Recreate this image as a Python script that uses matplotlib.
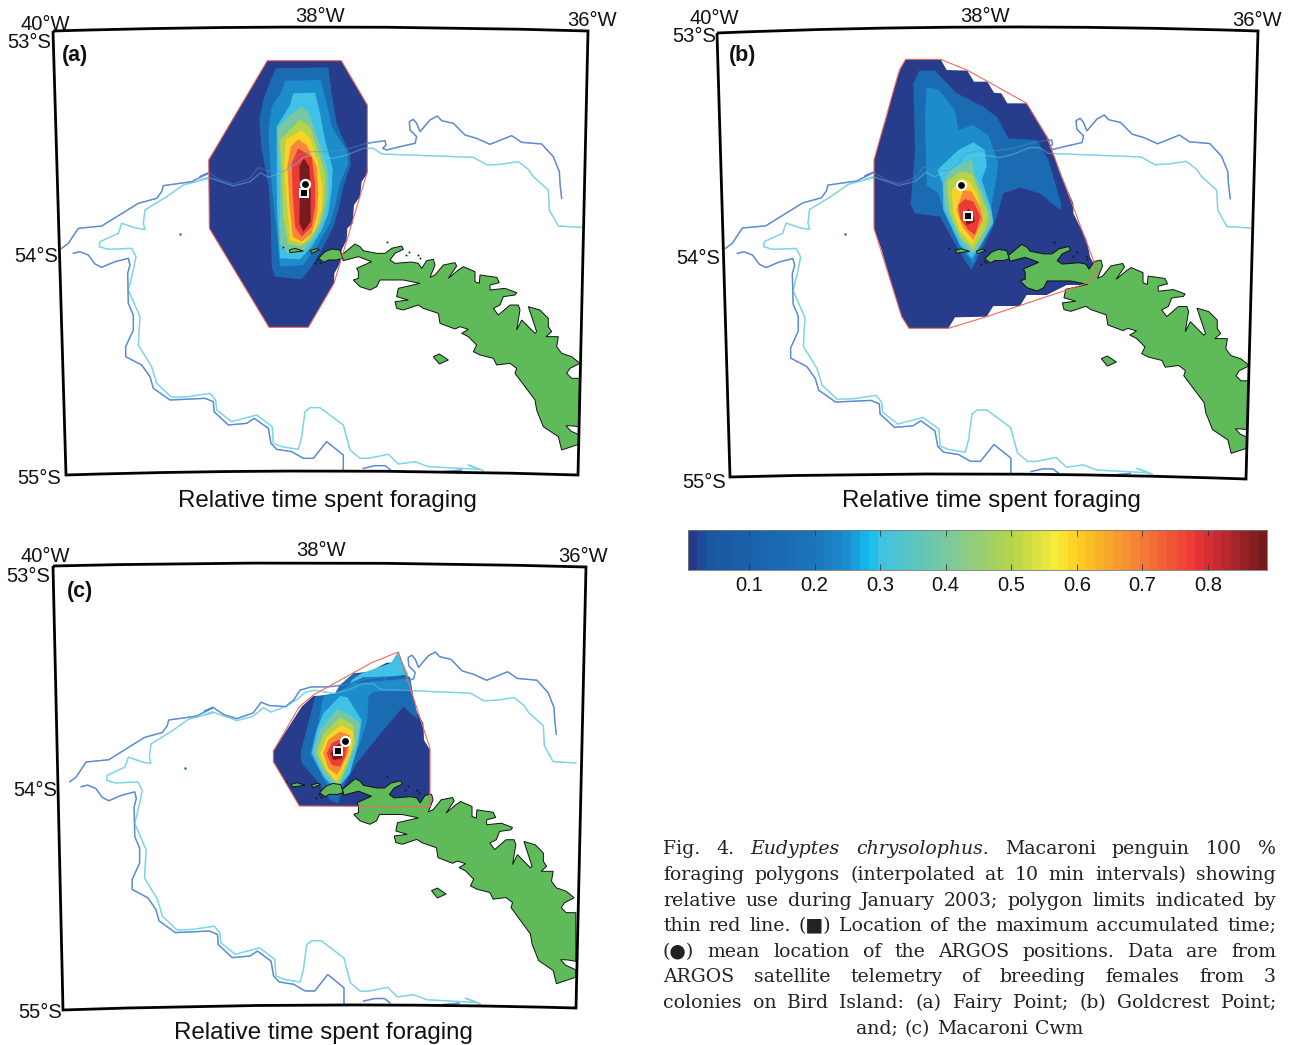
import numpy as np
import matplotlib
matplotlib.use('Agg')
import matplotlib.pyplot as plt
from matplotlib.colors import LinearSegmentedColormap
from matplotlib.patches import PathPatch
from matplotlib.path import Path

W, H = 1294, 1045

# colour of each use level
NAVY, BLUE1, BLUE2, CYAN = '#273c8a', '#1b6bb3', '#1c8ccb', '#3fc2e6'
TEAL, LIME, YELLOW, ORANGE, RED, DARK = '#79c7a2', '#b5d34a', '#fdd226', '#f6883a', '#ee3a36', '#761c1e'
LEVELS = [NAVY, BLUE1, BLUE2, CYAN, TEAL, LIME, YELLOW, ORANGE, RED, DARK]

# colourbar stops (value, colour)
CB_VALUES = [0.007, 0.03, 0.1, 0.2, 0.25, 0.28, 0.3, 0.4, 0.5, 0.57, 0.6, 0.7, 0.78, 0.8, 0.89]
CB_COLORS = ['#253a8a', '#1b559f', '#1a62ab', '#1c75bc', '#1c8fd0', '#0fbff0', '#3fc3e0', '#79c8a0',
             '#b5d34a', '#f7ec3a', '#fed221', '#f47f36', '#ee3a36', '#dc2f35', '#761c1e']
CB_TICKS = [0.1, 0.2, 0.3, 0.4, 0.5, 0.6, 0.7, 0.8]

# map frames, corners + middle of curved edges (pixels)
FRAME_A = [(53, 31), (320, 27), (588, 31), (578, 475), (320, 471), (66, 475)]
FRAME_B = [(717, 33), (985, 27), (1258, 31), (1246, 479), (990, 474), (730, 477)]
FRAME_C = [(53, 566), (320, 563), (586, 567), (576, 1008), (320, 1005), (63, 1010)]

# anchors used to carry the geography of panel (a) to the others
ANCHOR_A = [(180, 234), (437, 116), (440, 358)]
ANCHOR_B = [(845, 234), (1104, 115), (1108, 360)]
ANCHOR_C = [(185, 768), (435, 652), (438, 892)]

BLUE_N = [(0, 380), (26, 368), (60, 390), (100, 402), (150, 385), (175, 352), (200, 362), (250, 365), (275, 345),
          (295, 315), (330, 305), (380, 305), (440, 298), (500, 280), (555, 272), (558, 285), (548, 295), (560, 300),
          (600, 290), (645, 280), (650, 260), (630, 240), (628, 215), (640, 208), (650, 220), (660, 245), (690, 210),
          (712, 198), (725, 212), (760, 220), (795, 255), (830, 265), (870, 283), (935, 257), (965, 277), (1025, 282),
          (1060, 320), (1078, 365), (1080, 400), (1085, 445)]
BLUE_W = [(185, 745), (205, 730), (235, 685), (305, 678), (415, 610), (470, 595), (485, 575), (490, 557), (575, 545),
          (625, 520)]
BLUE_S = [(40, 40), (60, 35), (85, 45), (105, 72), (125, 82), (165, 65), (205, 55), (210, 75), (203, 100), (205, 190),
          (220, 225), (220, 270), (197, 320), (197, 350), (245, 375), (270, 410), (280, 445), (330, 480), (435, 475),
          (460, 485), (462, 515), (505, 555), (560, 550), (583, 535), (625, 565), (633, 610), (650, 628), (695, 635),
          (730, 655), (760, 655), (800, 605), (850, 645), (850, 695)]
BLUE_S2 = [(910, 685), (945, 677), (975, 677), (992, 690)]
BLUE_S3 = [(1150, 695), (1205, 690)]
CYAN_N = [(0, 390), (25, 382), (100, 408), (150, 395), (182, 368), (205, 382), (250, 365), (290, 340), (310, 322),
          (340, 315), (400, 325), (440, 315), (490, 295), (520, 295), (545, 312), (820, 322), (862, 345), (900, 343),
          (955, 335), (985, 358), (1000, 380), (1045, 420), (1048, 480), (1075, 528), (1145, 532)]
CYAN_W = [(625, 535), (550, 555), (500, 590), (435, 630), (430, 670), (435, 688), (410, 685), (365, 670), (355, 700),
          (300, 725), (298, 740), (325, 748), (395, 745), (408, 770), (400, 810)]
CYAN_S = [(205, 150), (240, 230), (235, 315), (275, 380), (290, 430), (335, 472), (385, 470), (450, 460), (467, 480),
          (470, 510), (515, 545), (590, 525), (637, 560), (640, 610), (665, 620), (715, 628), (725, 590), (735, 515),
          (750, 503), (780, 503), (850, 555), (870, 630), (900, 655), (925, 655), (985, 643), (1015, 672), (1065, 665),
          (1105, 680), (1260, 688)]
CYAN_S2 = [(385, 705), (430, 722)]
SHELF_DOT = (180, 234)

ISLAND = [(5, 75), (45, 42), (60, 50), (70, 62), (110, 70), (135, 70), (155, 55), (185, 48), (190, 58), (165, 70),
          (150, 90), (165, 100), (215, 96), (235, 100), (245, 115), (260, 92), (280, 88), (285, 105), (270, 142),
          (285, 135), (310, 105), (345, 98), (350, 108), (325, 145), (355, 120), (370, 110), (405, 125), (405, 155),
          (418, 160), (420, 135), (470, 142), (478, 158), (450, 165), (450, 180), (495, 175), (530, 188), (525, 195),
          (490, 200), (480, 225), (460, 235), (475, 255), (510, 225), (535, 225), (540, 240), (530, 300), (545, 270),
          (585, 310), (590, 305), (565, 230), (600, 240), (625, 265), (625, 290), (635, 305), (618, 320), (655, 320),
          (650, 350), (665, 370), (695, 380), (720, 400), (690, 415), (680, 430), (695, 445), (725, 445), (725, 592),
          (700, 588), (678, 587), (692, 603), (725, 618), (725, 640), (695, 650), (665, 660), (655, 620), (610, 590),
          (590, 540), (585, 510), (555, 470), (540, 450), (525, 430), (530, 415), (510, 400), (470, 405), (460, 385),
          (420, 375), (400, 365), (410, 345), (385, 320), (365, 310), (385, 298), (360, 290), (345, 297), (300, 280),
          (295, 250), (250, 235), (235, 225), (190, 240), (170, 235), (165, 215), (205, 210), (170, 200), (175, 175),
          (240, 160), (190, 150), (120, 150), (110, 170), (90, 180), (60, 170), (40, 150), (55, 145), (55, 125),
          (50, 115), (95, 95), (55, 80), (10, 92)]
ANNENKOV = [(280, 380), (298, 372), (325, 390), (298, 402)]
BIRD = [(375, 605), (395, 597), (420, 600), (428, 625), (410, 630), (385, 630), (372, 637), (355, 625)]
ISLET1 = [(268, 600), (285, 595), (310, 603), (270, 608)]
ISLET2 = [(330, 602), (350, 596), (358, 600), (335, 610)]
ROCKS = [(345, 640), (352, 630), (360, 638), (250, 592), (562, 575), (618, 615), (655, 615), (660, 625), (628, 605)]

# panel (a), crop at (200, 50)
A_HULL = [(202, 32), (424, 32), (502, 165), (502, 365), (402, 700), (325, 832), (207, 832), (28, 535), (26, 330)]
A_POLYS = [
    [(202, 32), (424, 32), (502, 165), (502, 370), (485, 395), (480, 440), (462, 465), (458, 520), (442, 535),
     (440, 570), (425, 600), (420, 640), (403, 670), (402, 700), (325, 832), (207, 832), (28, 535), (26, 330)],
    [(228, 55), (385, 52), (395, 130), (410, 220), (430, 270), (450, 310), (452, 345), (430, 410), (415, 480),
     (400, 530), (370, 590), (335, 650), (305, 688), (225, 680), (215, 650), (212, 500), (205, 400), (185, 300),
     (178, 210), (190, 150), (212, 90)],
    [(255, 92), (362, 90), (385, 180), (395, 230), (420, 270), (440, 300), (445, 340), (420, 400), (405, 470),
     (390, 520), (350, 590), (310, 645), (240, 650), (235, 600), (225, 500), (215, 400), (210, 330), (205, 250),
     (215, 170), (245, 125)],
    [(280, 130), (345, 128), (360, 190), (375, 270), (398, 355), (395, 420), (385, 490), (365, 540), (335, 590),
     (300, 628), (240, 625), (232, 500), (230, 400), (230, 230), (270, 165)],
    [(305, 170), (325, 185), (345, 240), (365, 300), (385, 370), (385, 440), (370, 510), (345, 560), (310, 605),
     (262, 610), (240, 580), (240, 400), (232, 235), (270, 195)],
    [(300, 210), (330, 230), (350, 290), (375, 370), (375, 450), (360, 520), (330, 570), (300, 590), (265, 580),
     (250, 500), (245, 380), (240, 270)],
    [(305, 240), (330, 265), (355, 340), (368, 420), (365, 480), (345, 540), (310, 580), (270, 570), (262, 470),
     (252, 350), (258, 270)],
    [(295, 268), (320, 285), (350, 350), (355, 430), (350, 500), (335, 550), (305, 575), (278, 560), (268, 460),
     (262, 350), (272, 290)],
    [(295, 295), (335, 320), (345, 400), (345, 470), (335, 530), (305, 560), (285, 530), (278, 430), (275, 340)],
    [(312, 325), (328, 350), (332, 430), (332, 515), (310, 545), (298, 520), (300, 400), (298, 350)],
]
A_CIRCLE, A_SQUARE = (305, 184), (304, 193)

# panel (b), crop at (860, 50)
B_HULL = [(137, 28), (242, 28), (325, 62), (500, 160), (560, 260), (715, 670), (680, 700), (380, 800), (265, 835),
          (147, 835), (125, 800), (42, 535), (42, 330), (118, 60)]
B_POLYS = [
    [(137, 28), (242, 28), (260, 60), (322, 62), (342, 95), (382, 95), (402, 128), (424, 130), (442, 160), (500, 160),
     (565, 265), (580, 310), (600, 370), (640, 460), (640, 490), (680, 570), (690, 620), (715, 670), (680, 705),
     (620, 705), (560, 735), (500, 735), (480, 768), (400, 768), (380, 800), (285, 802), (265, 835), (147, 835),
     (125, 800), (105, 735), (85, 670), (65, 600), (42, 535), (42, 330), (60, 265), (80, 200), (100, 120), (120, 60)],
    [(178, 62), (225, 62), (290, 130), (370, 170), (410, 200), (445, 265), (530, 270), (565, 330), (605, 465),
     (600, 480), (540, 430), (480, 413), (430, 430), (410, 500), (395, 540), (360, 610), (335, 660), (320, 640),
     (290, 590), (240, 500), (165, 490), (152, 465), (165, 300), (160, 100)],
    [(200, 112), (235, 118), (285, 180), (295, 240), (340, 225), (385, 255), (415, 340), (405, 410), (390, 490),
     (340, 640), (300, 590), (250, 480), (235, 430), (200, 405), (195, 200)],
    [(340, 277), (375, 300), (380, 350), (365, 390), (395, 480), (400, 520), (360, 590), (335, 625), (300, 585),
     (250, 480), (248, 400), (232, 360), (295, 300)],
    [(265, 365), (335, 328), (345, 375), (370, 430), (398, 510), (355, 595), (335, 612), (300, 570), (255, 470),
     (250, 400)],
    [(260, 395), (300, 365), (335, 370), (385, 490), (380, 530), (340, 600), (300, 560), (270, 490)],
    [(275, 420), (305, 385), (330, 395), (350, 430), (372, 510), (338, 585), (300, 545), (280, 490)],
    [(310, 420), (335, 425), (360, 470), (370, 510), (340, 570), (310, 535), (290, 480)],
    [(315, 447), (340, 455), (362, 500), (345, 555), (325, 540), (300, 505), (295, 465)],
    [(325, 475), (340, 500), (345, 515), (320, 525), (315, 500)],
]
B_CIRCLE, B_SQUARE = (961, 185), (968, 216)

# panel (c), crop at (260, 640)
C_HULL = [(415, 36), (335, 68), (160, 165), (118, 200), (40, 333), (40, 365), (118, 498), (510, 500), (510, 325)]
C_POLYS = [
    [(125, 200), (160, 168), (225, 165), (240, 135), (265, 130), (280, 100), (330, 95), (380, 68), (395, 68), (415, 36),
     (440, 100), (455, 150), (470, 215), (490, 250), (492, 300), (510, 330), (510, 500), (118, 498), (40, 365), (40, 333)],
    [(165, 170), (225, 160), (240, 135), (280, 100), (450, 110), (460, 170), (475, 240), (430, 200), (370, 270),
     (290, 370), (250, 440), (235, 490), (210, 480), (170, 420), (125, 370), (122, 335), (150, 230)],
    [(275, 120), (305, 100), (395, 68), (415, 36), (445, 105), (380, 110), (310, 112), (270, 130)],
    [(190, 170), (225, 160), (280, 130), (450, 115), (455, 150), (340, 155), (325, 170), (322, 240), (300, 310),
     (270, 390), (240, 440), (235, 460), (205, 440), (150, 340), (175, 250)],
    [(240, 168), (262, 172), (305, 240), (295, 310), (270, 400), (230, 450), (190, 410), (155, 340), (170, 270),
     (190, 220)],
    [(230, 208), (265, 222), (300, 250), (290, 310), (260, 390), (232, 445), (190, 400), (160, 335), (180, 270)],
    [(240, 232), (280, 255), (285, 310), (255, 390), (235, 435), (195, 390), (170, 340), (190, 280)],
    [(245, 255), (280, 275), (275, 330), (245, 400), (230, 425), (200, 390), (180, 340), (200, 290)],
    [(240, 275), (270, 285), (265, 340), (240, 390), (230, 405), (205, 385), (190, 340), (205, 300)],
    [(245, 295), (265, 305), (255, 350), (240, 380), (215, 375), (200, 340), (215, 310)],
    [(240, 310), (250, 330), (245, 355), (220, 360), (212, 340), (225, 320)],
]
C_COLORS = [NAVY, BLUE1, CYAN, BLUE2, CYAN, TEAL, LIME, YELLOW, ORANGE, RED, DARK]
C_CIRCLE, C_SQUARE = (345, 741), (338, 751)

# text
LON_LABELS = ['40°W', '38°W', '36°W']
LAT_LABELS = ['53°S', '54°S', '55°S']
XLABEL = 'Relative time spent foraging'
CAPTION = ['Fig. 4. *Eudyptes *chrysolophus. Macaroni penguin 100 %',
           'foraging polygons (interpolated at 10 min intervals) showing',
           'relative use during January 2003; polygon limits indicated by',
           'thin red line. (■) Location of the maximum accumulated time;',
           '(●) mean location of the ARGOS positions. Data are from',
           'ARGOS satellite telemetry of breeding females from 3',
           'colonies on Bird Island: (a) Fairy Point; (b) Goldcrest Point;',
           'and; (c) Macaroni Cwm']
CAPTION_Y = [849, 875, 901, 926, 952, 977, 1003, 1029]

plt.rcParams['font.family'] = ['Liberation Sans', 'DejaVu Sans']


def crop(pts, x0, y0):
    # crop coordinates (3x) to figure pixels
    p = np.array(pts, dtype=float)
    return p / 3 + [x0, y0]


def affine(src, dst):
    s = np.column_stack([np.array(src, dtype=float), np.ones(3)])
    m, _, _, _ = np.linalg.lstsq(s, np.array(dst, dtype=float), rcond=None)
    return lambda p: np.column_stack([np.atleast_2d(p), np.ones(len(np.atleast_2d(p)))]) @ m


def frame_path(f):
    # the top and bottom edges of the map projection are slightly curved
    top = 2 * np.array(f[1]) - (np.array(f[0]) + np.array(f[2])) / 2
    bot = 2 * np.array(f[4]) - (np.array(f[3]) + np.array(f[5])) / 2
    verts = [f[0], top, f[2], f[3], bot, f[5], f[0]]
    codes = [Path.MOVETO, Path.CURVE3, Path.CURVE3, Path.LINETO, Path.CURVE3, Path.CURVE3, Path.LINETO]
    return Path(verts, codes)


def draw_panel(ax, frame, tf, polys, colors, hull, circle, square):
    clip = PathPatch(frame_path(frame), fc='none', ec='none', transform=ax.transData)
    ax.add_patch(clip)
    for poly, col in zip(polys, colors):
        ax.fill(poly[:, 0], poly[:, 1], color=col, lw=0, zorder=2)

    # depth contours, drawn under the polygons and again faintly over them
    blue = [np.vstack([crop(BLUE_W, 0, 0), crop(BLUE_N, 200, 50)]), crop(BLUE_S, 60, 240),
            crop(BLUE_S2, 60, 240), crop(BLUE_S3, 60, 240)]
    cyan = [np.vstack([crop(CYAN_N, 200, 50)[::-1], crop(CYAN_W, 0, 0), crop(CYAN_S, 60, 240), crop(CYAN_S2, 340, 230)])]
    for lines, col in ((cyan, '#7dd5e7'), (blue, '#5a8bd2')):
        for line in lines:
            p = tf(line)
            for z, a in ((1, 1.0), (3, 0.4)):
                ln, = ax.plot(p[:, 0], p[:, 1], color=col, lw=1.0, alpha=a, zorder=z)
                ln.set_clip_path(clip)
    d = tf(SHELF_DOT)
    ax.plot(d[:, 0], d[:, 1], 'o', color='#1c6fb8', ms=1.8, mew=0, zorder=3)

    # land
    shapes = [crop(ISLAND, 340, 230), crop(ANNENKOV, 340, 230), crop(BIRD, 200, 50), crop(ISLET1, 200, 50),
              crop(ISLET2, 200, 50)]
    for s in shapes:
        p = tf(s)
        patch = ax.fill(p[:, 0], p[:, 1], fc='#5fba5a', ec='#111111', lw=0.7, zorder=4)[0]
        patch.set_clip_path(clip)
    r = tf(crop(ROCKS, 200, 50))
    ax.plot(r[:, 0], r[:, 1], 's', color='#111111', ms=1.2, mew=0, zorder=4)

    ax.fill(hull[:, 0], hull[:, 1], fc='none', ec='#f0695c', lw=0.8, zorder=5)
    ax.plot(*circle, 'o', color='black', ms=6.5, mec='white', mew=1.6, zorder=6)
    ax.plot(*square, 's', color='black', ms=5.5, mec='white', mew=1.4, zorder=6)
    ax.add_patch(PathPatch(frame_path(frame), fc='none', ec='black', lw=2.0, zorder=7, joinstyle='miter'))


fig = plt.figure(figsize=(W / 100, H / 100), dpi=100)
ax = fig.add_axes([0, 0, 1, 1])
ax.set_xlim(0, W)
ax.set_ylim(H, 0)
ax.axis('off')

tf_a = affine(ANCHOR_A, ANCHOR_A)
tf_b = affine(ANCHOR_A, ANCHOR_B)
tf_c = affine(ANCHOR_A, ANCHOR_C)
draw_panel(ax, FRAME_A, tf_a, [crop(p, 200, 50) for p in A_POLYS], LEVELS, crop(A_HULL, 200, 50), A_CIRCLE, A_SQUARE)
draw_panel(ax, FRAME_B, tf_b, [crop(p, 860, 50) for p in B_POLYS], LEVELS, crop(B_HULL, 860, 50), B_CIRCLE, B_SQUARE)
draw_panel(ax, FRAME_C, tf_c, [crop(p, 260, 640) for p in C_POLYS], C_COLORS, crop(C_HULL, 260, 640), C_CIRCLE, C_SQUARE)

# axis labels of the three maps
lon_pos = [[(45, 24), (320, 16), (592, 20)], [(714, 18), (985, 16), (1257, 20)], [(45, 556), (321, 551), (583, 557)]]
lat_pos = [[(29, 43), (36, 257), (39, 478)], [(694, 37), (698, 258), (704, 482)], [(28, 576), (35, 791), (40, 1013)]]
tag_pos = [(62, 55), (729, 55), (67, 592)]
xlabel_pos = [(327, 501), (991, 501), (323, 1033)]
for i, tag in enumerate(['(a)', '(b)', '(c)']):
    for lab, (x, y) in zip(LON_LABELS, lon_pos[i]):
        ax.text(x, y, lab, ha='center', va='center', fontsize=14.5, color='#111111')
    for lab, (x, y) in zip(LAT_LABELS, lat_pos[i]):
        ax.text(x, y, lab, ha='center', va='center', fontsize=14.5, color='#111111')
    ax.text(tag_pos[i][0], tag_pos[i][1], tag, ha='left', va='center', fontsize=15.5, fontweight='bold', color='#111111')
    ax.text(xlabel_pos[i][0], xlabel_pos[i][1], XLABEL, ha='center', va='center', fontsize=17.4, color='#111111')

# colourbar
cax = fig.add_axes([688 / W, 1 - 570 / H, 579 / W, 40 / H])
stops = [(v - CB_VALUES[0]) / (CB_VALUES[-1] - CB_VALUES[0]) for v in CB_VALUES]
cmap = LinearSegmentedColormap.from_list('use', list(zip(stops, CB_COLORS)), N=64)
edges = np.linspace(CB_VALUES[0], CB_VALUES[-1], 65)
cax.pcolormesh(edges, [0, 1], edges[:-1][None, :], cmap=cmap, shading='flat')
cax.set_yticks([])
cax.set_xticks(CB_TICKS)
cax.set_xticklabels([f'{t:.1f}' for t in CB_TICKS], fontsize=14.5, color='#111111')
cax.tick_params(axis='x', direction='in', top=True, length=4, width=0.6, color='#333333', pad=4)
for s in cax.spines.values():
    s.set_linewidth(0.6)
    s.set_color('#777777')

# justified caption, word by word
fig.canvas.draw()
renderer = fig.canvas.get_renderer()
left, right = 663, 1276
for line, y in zip(CAPTION, CAPTION_Y):
    words = line.split(' ')
    items = []
    for w in words:
        italic = w.startswith('*')
        t = ax.text(0, y, w.lstrip('*'), ha='left', va='center', fontsize=13.6, color='#222222',
                    family=['DejaVu Serif', 'DejaVu Sans'], style='italic' if italic else 'normal')
        items.append((t, t.get_window_extent(renderer).width))
    total = sum(b for _, b in items)
    if line == CAPTION[-1]:
        gap = 7
        x = (left + right) / 2 - (total + gap * (len(items) - 1)) / 2
    else:
        gap = (right - left - total) / (len(items) - 1)
        x = left
    for t, b in items:
        t.set_x(x)
        x += b + gap

fig.savefig('out.png', dpi=100)
